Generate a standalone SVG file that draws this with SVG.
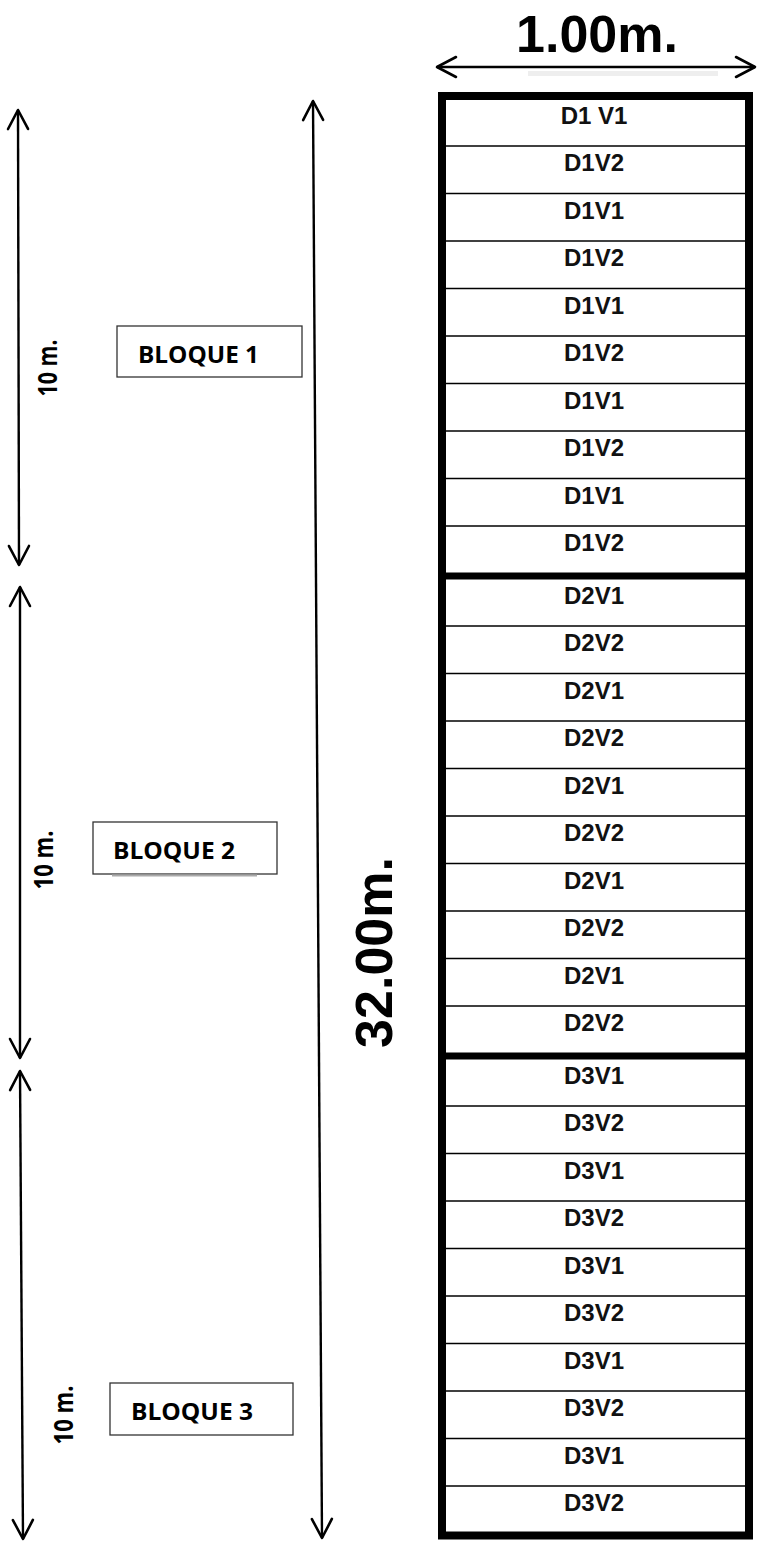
<svg xmlns="http://www.w3.org/2000/svg" width="759" height="1543" viewBox="0 0 759 1543">
<style>
.row{font-family:"Liberation Sans",Arial,sans-serif;font-weight:bold;font-size:24px;fill:#111;text-anchor:middle}
.big{font-family:"Liberation Sans",Arial,sans-serif;font-weight:bold;font-size:52px;fill:#000;text-anchor:middle}
.lbl{font-family:"Open Sans",Lato,sans-serif;font-weight:bold;font-size:23px;fill:#000}
.dim{font-family:"Open Sans",Lato,sans-serif;font-weight:bold;font-size:27px;fill:#000;text-anchor:middle}
.thin{stroke:#000;stroke-width:1.3}
.thick{stroke:#000;stroke-width:7}
.arr{stroke:#000;stroke-width:2.4;fill:none;marker-start:url(#ah);marker-end:url(#ah)}
.box{fill:#fff;stroke:#333;stroke-width:1.3}
</style>
<defs>
<marker id="ah" viewBox="-22 -12 25 24" markerWidth="25" markerHeight="24" refX="0" refY="0" markerUnits="userSpaceOnUse" orient="auto-start-reverse">
<path d="M -19 -10 L 0 0 L -19 10" fill="none" stroke="#000" stroke-width="2.6" stroke-linejoin="round" stroke-linecap="round"/>
</marker>
</defs>
<rect width="759" height="1543" fill="#fff"/>

<g id="connectors">
<line x1="528" y1="73.5" x2="718" y2="73.5" stroke="#eee" stroke-width="5"/>
<line class="arr" x1="437" y1="67" x2="755" y2="67"/>
<line class="arr" x1="18" y1="110" x2="19" y2="565"/>
<line class="arr" x1="20" y1="587" x2="20" y2="1058"/>
<line class="arr" x1="20" y1="1071" x2="23" y2="1539"/>
<line class="arr" x1="313" y1="101" x2="322" y2="1538"/>
</g>

<g id="dim-width"><text class="big" x="597" y="52">1.00m.</text></g>
<g id="dim-length"><text class="big" transform="translate(392,952.5) rotate(-90)">32.00m.</text></g>
<g id="dim-b1"><text class="dim" transform="translate(56.5,368) rotate(-90)" textLength="57" lengthAdjust="spacingAndGlyphs">10 m.</text></g>
<g id="dim-b2"><text class="dim" transform="translate(52.5,860) rotate(-90)" textLength="59" lengthAdjust="spacingAndGlyphs">10 m.</text></g>
<g id="dim-b3"><text class="dim" transform="translate(72.5,1415) rotate(-90)" textLength="59" lengthAdjust="spacingAndGlyphs">10 m.</text></g>

<g id="bloque1"><rect class="box" x="117" y="326" width="185" height="51"/><text class="lbl" x="138" y="363" textLength="121" lengthAdjust="spacingAndGlyphs">BLOQUE 1</text></g>
<g id="bloque2"><rect class="box" x="93" y="822" width="184" height="52"/><line x1="112" y1="875.5" x2="257" y2="875.5" stroke="#aaa" stroke-width="2"/><text class="lbl" x="113" y="859" textLength="122" lengthAdjust="spacingAndGlyphs">BLOQUE 2</text></g>
<g id="bloque3"><rect class="box" x="110" y="1383" width="183" height="52"/><text class="lbl" x="131" y="1420" textLength="122" lengthAdjust="spacingAndGlyphs">BLOQUE 3</text></g>

<g id="strip">
<rect x="442" y="96" width="307" height="1439.5" fill="#fff" stroke="#000" stroke-width="8"/>
<line class="thick" x1="446" y1="576" x2="745" y2="576"/>
<line class="thick" x1="446" y1="1056" x2="745" y2="1056"/>
<g class="thin">
<line x1="446" y1="146" x2="745" y2="146"/>
<line x1="446" y1="193.5" x2="745" y2="193.5"/>
<line x1="446" y1="241" x2="745" y2="241"/>
<line x1="446" y1="288.5" x2="745" y2="288.5"/>
<line x1="446" y1="336" x2="745" y2="336"/>
<line x1="446" y1="383.5" x2="745" y2="383.5"/>
<line x1="446" y1="431" x2="745" y2="431"/>
<line x1="446" y1="478.5" x2="745" y2="478.5"/>
<line x1="446" y1="526" x2="745" y2="526"/>
<line x1="446" y1="626" x2="745" y2="626"/>
<line x1="446" y1="673.5" x2="745" y2="673.5"/>
<line x1="446" y1="721" x2="745" y2="721"/>
<line x1="446" y1="768.5" x2="745" y2="768.5"/>
<line x1="446" y1="816" x2="745" y2="816"/>
<line x1="446" y1="863.5" x2="745" y2="863.5"/>
<line x1="446" y1="911" x2="745" y2="911"/>
<line x1="446" y1="958.5" x2="745" y2="958.5"/>
<line x1="446" y1="1006" x2="745" y2="1006"/>
<line x1="446" y1="1106" x2="745" y2="1106"/>
<line x1="446" y1="1153.5" x2="745" y2="1153.5"/>
<line x1="446" y1="1201" x2="745" y2="1201"/>
<line x1="446" y1="1248.5" x2="745" y2="1248.5"/>
<line x1="446" y1="1296" x2="745" y2="1296"/>
<line x1="446" y1="1343.5" x2="745" y2="1343.5"/>
<line x1="446" y1="1391" x2="745" y2="1391"/>
<line x1="446" y1="1438.5" x2="745" y2="1438.5"/>
<line x1="446" y1="1486" x2="745" y2="1486"/>
</g>
</g>

<g id="rows">
<text class="row" x="594" y="124">D1 V1</text>
<text class="row" x="594" y="171">D1V2</text>
<text class="row" x="594" y="218.5">D1V1</text>
<text class="row" x="594" y="266">D1V2</text>
<text class="row" x="594" y="313.5">D1V1</text>
<text class="row" x="594" y="361">D1V2</text>
<text class="row" x="594" y="408.5">D1V1</text>
<text class="row" x="594" y="456">D1V2</text>
<text class="row" x="594" y="503.5">D1V1</text>
<text class="row" x="594" y="551">D1V2</text>
<text class="row" x="594" y="604">D2V1</text>
<text class="row" x="594" y="651">D2V2</text>
<text class="row" x="594" y="698.5">D2V1</text>
<text class="row" x="594" y="746">D2V2</text>
<text class="row" x="594" y="793.5">D2V1</text>
<text class="row" x="594" y="841">D2V2</text>
<text class="row" x="594" y="888.5">D2V1</text>
<text class="row" x="594" y="936">D2V2</text>
<text class="row" x="594" y="983.5">D2V1</text>
<text class="row" x="594" y="1031">D2V2</text>
<text class="row" x="594" y="1084">D3V1</text>
<text class="row" x="594" y="1131">D3V2</text>
<text class="row" x="594" y="1178.5">D3V1</text>
<text class="row" x="594" y="1226">D3V2</text>
<text class="row" x="594" y="1273.5">D3V1</text>
<text class="row" x="594" y="1321">D3V2</text>
<text class="row" x="594" y="1368.5">D3V1</text>
<text class="row" x="594" y="1416">D3V2</text>
<text class="row" x="594" y="1463.5">D3V1</text>
<text class="row" x="594" y="1511">D3V2</text>
</g>
</svg>
